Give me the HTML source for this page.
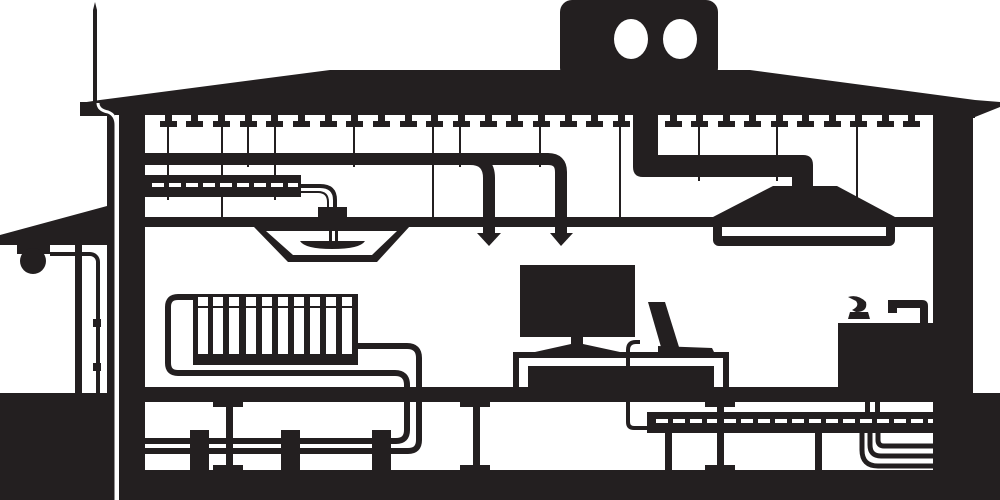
<!DOCTYPE html>
<html><head><style>html,body{margin:0;padding:0;background:#fff}svg{display:block}</style></head>
<body>
<svg width="1000" height="500" viewBox="0 0 1000 500" xmlns="http://www.w3.org/2000/svg">
<g fill="#231f20" stroke="none">
<polygon points="93,103 93,10 95,2 97,10 97,103"/>
<rect x="560" y="0" width="158" height="80" rx="12"/>
<polygon points="100,100 330,70 750,70 975,100 1000,102 1000,107 975,117 975,118 145,118 145,115 107,115 80,108 80,103"/>
<rect x="80" y="102" width="30" height="14"/>
<rect x="145" y="100" width="788" height="15"/>
<rect x="119" y="100" width="26" height="400"/>
<rect x="107" y="110" width="8" height="390"/>
<rect x="933" y="100" width="40" height="400"/>
<rect x="0" y="393" width="107" height="107"/>
<rect x="973" y="393" width="27" height="107"/>
<rect x="145" y="470" width="788" height="30"/>
<rect x="145" y="387" width="788" height="15"/>
<rect x="145" y="217" width="788" height="10"/>
<polygon points="0,235 107,206 107,245 0,245"/>
<rect x="17" y="245" width="33" height="9"/>
<circle cx="33" cy="261" r="13"/>
<rect x="75" y="245" width="7" height="148"/>
<path d="M50,252 h40 a10,10 0 0 1 10,10 v131 h-4 v-131 a6,6 0 0 0 -6,-6 h-40 z"/>
<rect x="93" y="319" width="8" height="8"/>
<rect x="93" y="363" width="8" height="8"/>
</g>
<ellipse cx="631" cy="39" rx="17" ry="20" fill="#fff"/>
<ellipse cx="680" cy="39" rx="17" ry="20" fill="#fff"/>
<path d="M98,103 Q98,110 108,112 Q116,115 116,125 V500" fill="none" stroke="#fff" stroke-width="3"/>
<g fill="#231f20">
<rect x="160" y="114" width="17" height="13"/><rect x="186" y="114" width="17" height="13"/><rect x="213" y="114" width="17" height="13"/><rect x="240" y="114" width="17" height="13"/><rect x="266" y="114" width="17" height="13"/><rect x="293" y="114" width="17" height="13"/><rect x="320" y="114" width="17" height="13"/><rect x="346" y="114" width="17" height="13"/><rect x="373" y="114" width="17" height="13"/><rect x="400" y="114" width="17" height="13"/><rect x="426" y="114" width="17" height="13"/><rect x="453" y="114" width="17" height="13"/><rect x="480" y="114" width="17" height="13"/><rect x="506" y="114" width="17" height="13"/><rect x="533" y="114" width="17" height="13"/><rect x="560" y="114" width="17" height="13"/><rect x="586" y="114" width="17" height="13"/><rect x="613" y="114" width="17" height="13"/>
<rect x="665" y="114" width="17" height="13"/><rect x="691" y="114" width="17" height="13"/><rect x="718" y="114" width="17" height="13"/><rect x="744" y="114" width="17" height="13"/><rect x="771" y="114" width="17" height="13"/><rect x="797" y="114" width="17" height="13"/><rect x="824" y="114" width="17" height="13"/><rect x="850" y="114" width="17" height="13"/><rect x="877" y="114" width="17" height="13"/><rect x="903" y="114" width="17" height="13"/>
</g>
<rect x="145" y="115" width="788" height="6" fill="#fff"/>
<g fill="#231f20">
<rect x="165" y="114" width="7" height="8"/><rect x="191" y="114" width="7" height="8"/><rect x="218" y="114" width="7" height="8"/><rect x="245" y="114" width="7" height="8"/><rect x="271" y="114" width="7" height="8"/><rect x="298" y="114" width="7" height="8"/><rect x="325" y="114" width="7" height="8"/><rect x="351" y="114" width="7" height="8"/><rect x="378" y="114" width="7" height="8"/><rect x="405" y="114" width="7" height="8"/><rect x="431" y="114" width="7" height="8"/><rect x="458" y="114" width="7" height="8"/><rect x="485" y="114" width="7" height="8"/><rect x="511" y="114" width="7" height="8"/><rect x="538" y="114" width="7" height="8"/><rect x="565" y="114" width="7" height="8"/><rect x="591" y="114" width="7" height="8"/><rect x="618" y="114" width="7" height="8"/>
<rect x="670" y="114" width="7" height="8"/><rect x="696" y="114" width="7" height="8"/><rect x="723" y="114" width="7" height="8"/><rect x="749" y="114" width="7" height="8"/><rect x="776" y="114" width="7" height="8"/><rect x="802" y="114" width="7" height="8"/><rect x="829" y="114" width="7" height="8"/><rect x="855" y="114" width="7" height="8"/><rect x="882" y="114" width="7" height="8"/><rect x="908" y="114" width="7" height="8"/>
</g>
<g stroke="#231f20" stroke-width="2">
<line x1="168" y1="120" x2="168" y2="200"/><line x1="222" y1="120" x2="222" y2="217"/><line x1="248" y1="120" x2="248" y2="167"/><line x1="275" y1="120" x2="275" y2="200"/><line x1="354" y1="120" x2="354" y2="167"/><line x1="433" y1="120" x2="433" y2="217"/><line x1="460" y1="120" x2="460" y2="167"/><line x1="540" y1="120" x2="540" y2="167"/><line x1="620" y1="120" x2="620" y2="217"/><line x1="699" y1="120" x2="699" y2="181"/><line x1="777" y1="120" x2="777" y2="181"/><line x1="857" y1="120" x2="857" y2="198"/>
</g>
<g fill="none" stroke="#231f20" stroke-width="12">
<path d="M145,159 H548 Q561,159 561,172 V236"/>
<path d="M470,159 Q489,159 489,178 V236"/>
</g>
<g fill="#231f20">
<polygon points="477,233 501,233 489,246"/>
<polygon points="550,233 573,233 561,246"/>
<path d="M633,100 H658 V155 H803 Q813,155 813,165 V188 H792 V177 H643 Q633,177 633,167 Z"/>
<polygon points="773,186 837,186 895,217 713,217"/>
<rect x="713" y="215" width="182" height="31" rx="6"/>
<rect x="145" y="175" width="156" height="22"/>
<rect x="647" y="412" width="286" height="21"/>
</g>
<rect x="722" y="227" width="164" height="9" fill="#fff"/>
<g stroke="#fff" stroke-width="4" stroke-dasharray="12,5">
<line x1="152" y1="185" x2="298" y2="185"/>
<line x1="656" y1="421" x2="933" y2="421"/>
</g>
<g fill="none" stroke="#231f20">
<path d="M300,186 H320 Q335,186 335,200 V208" stroke-width="4"/>
<path d="M300,192 H318 Q328,192 328,202 V208" stroke-width="2"/>
</g>
<g fill="#231f20">
<rect x="318" y="207" width="29" height="12"/>
<polygon points="253,226 410,226 377,262 288,262"/>
</g>
<polygon points="266,231 397,231 372,255 293,255" fill="#fff"/>
<g fill="#231f20">
<rect x="329" y="226" width="3" height="16"/><rect x="335" y="226" width="3" height="16"/>
<path d="M300,241 H365 Q360,249 332,249 Q305,249 300,241 Z"/>
</g>
<g fill="none" stroke="#231f20" stroke-width="6">
<path d="M195,297 H178 Q168,297 168,307 V363 Q168,373 178,373 H395 Q407,373 407,385 V430 Q407,441 396,441 H145"/>
<path d="M358,346 H407 Q419,346 419,358 V440 Q419,451 408,451 H145"/>
</g>
<rect x="193" y="294" width="165" height="71" fill="#231f20"/>
<g fill="#fff">
<rect x="198" y="297" width="10" height="9"/><rect x="213" y="297" width="10" height="9"/><rect x="229" y="297" width="10" height="9"/><rect x="246" y="297" width="10" height="9"/><rect x="262" y="297" width="10" height="9"/><rect x="278" y="297" width="10" height="9"/><rect x="294" y="297" width="10" height="9"/><rect x="310" y="297" width="10" height="9"/><rect x="326" y="297" width="10" height="9"/><rect x="342" y="297" width="10" height="9"/>
<rect x="198" y="308" width="10" height="46"/><rect x="213" y="308" width="10" height="46"/><rect x="229" y="308" width="10" height="46"/><rect x="246" y="308" width="10" height="46"/><rect x="262" y="308" width="10" height="46"/><rect x="278" y="308" width="10" height="46"/><rect x="294" y="308" width="10" height="46"/><rect x="310" y="308" width="10" height="46"/><rect x="326" y="308" width="10" height="46"/><rect x="342" y="308" width="10" height="46"/>
</g>
<g fill="#231f20">
<rect x="213" y="402" width="30" height="5"/><rect x="226" y="402" width="7" height="68"/><rect x="213" y="465" width="30" height="5"/>
<rect x="460" y="402" width="30" height="5"/><rect x="473" y="402" width="7" height="68"/><rect x="460" y="465" width="30" height="5"/>
<rect x="705" y="402" width="30" height="5"/><rect x="717" y="402" width="7" height="68"/><rect x="705" y="465" width="30" height="5"/>
<rect x="190" y="430" width="19" height="40"/><rect x="281" y="430" width="19" height="40"/><rect x="372" y="430" width="19" height="40"/>
<rect x="665" y="433" width="7" height="37"/><rect x="815" y="433" width="7" height="37"/>
<rect x="520" y="265" width="115" height="72"/>
<rect x="571" y="337" width="12" height="10"/>
<polygon points="535,352 571,344 583,344 620,352"/>
<rect x="513" y="352" width="216" height="6"/>
<rect x="513" y="352" width="6" height="35"/><rect x="723" y="352" width="6" height="35"/>
<rect x="528" y="366" width="186" height="21"/>
<polygon points="648,302 665,302 679,347 661,347"/>
<polygon points="658,346 712,348 714,352 658,352"/>
<rect x="838" y="323" width="95" height="66"/>
<path d="M888,300 H922 Q928,300 928,306 V323 H920 V308 H897 V313 H888 Z"/>
<path d="M850,312 H868 L870,319 H848 Z"/>
<path d="M848,297 Q858,294 866,302 Q868,312 856,312 L852,310 Q860,306 856,301 Z"/>
<rect x="865" y="402" width="5" height="10"/><rect x="875" y="402" width="5" height="10"/>
</g>
<path d="M640,342 H636 Q628,342 628,350 V422 Q628,428 634,428 H648" fill="none" stroke="#231f20" stroke-width="4"/>
<g fill="none" stroke="#231f20" stroke-width="5">
<path d="M862,433 V450 Q862,466 878,466 H933"/>
<path d="M870,433 V445 Q870,456 881,456 H933"/>
<path d="M878,433 V440 Q878,446 884,446 H933"/>
</g>
</svg>
</body></html>
